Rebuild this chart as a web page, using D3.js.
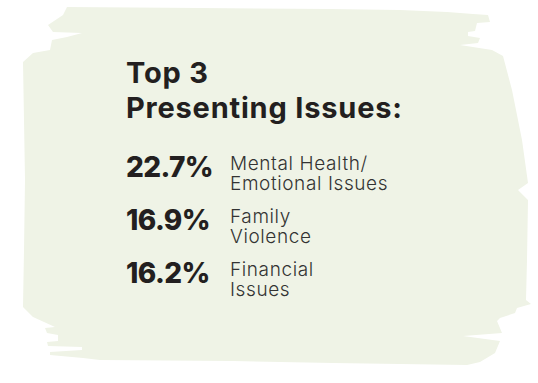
<!DOCTYPE html>
<html>
<head>
<meta charset="utf-8">
<script src="https://cdn.jsdelivr.net/npm/d3@7"></script>
<style>
  html, body { margin: 0; padding: 0; background: #fff; }
  svg { display: block; }
</style>
</head>
<body>
<div id="chart"></div>
<script>
const titleLines = ['Top 3', 'Presenting Issues:'];
const categories = ['Mental Health/Emotional Issues', 'Family Violence', 'Financial Issues'];
const labelLines = [['Mental Health/', 'Emotional Issues'], ['Family', 'Violence'], ['Financial', 'Issues']];
const shares = [22.7, 16.9, 16.2];

const width = 538;
const height = 383;
const ink = '#231f20';
const paper = '#eff3e6';

// brush-stroke backdrop outline
const brush = [
  [67, 7], [200, 8], [330, 9], [400, 10], [447, 12], [473, 14], [488, 15], [490, 22],
  [477, 23], [475, 31], [468, 32], [468, 36], [480, 38], [478, 43], [460, 45],
  [492, 50], [503, 56], [512, 90], [522, 140], [528, 183], [518, 190], [528, 200],
  [527, 260], [526, 300], [531, 304], [517, 308], [515, 313], [500, 318], [497, 321],
  [502, 333], [463, 336], [500, 341], [495, 353], [480, 362], [467, 365],
  [333, 363], [233, 361], [100, 360], [83, 358], [50, 355], [50, 352], [82, 350],
  [82, 347], [48, 346], [47, 342], [58, 341], [58, 335], [47, 333], [45, 328],
  [55, 327], [33, 317], [23, 307], [24, 250], [25, 180], [24, 120], [23, 62],
  [33, 53], [50, 50], [52, 40], [67, 37], [82, 33], [53, 32], [48, 25], [63, 15]
];

const svg = d3.select('#chart').append('svg')
  .attr('width', width)
  .attr('height', height)
  .attr('viewBox', [0, 0, width, height].join(' '));

svg.append('path')
  .attr('d', d3.line().curve(d3.curveLinearClosed)(brush))
  .attr('fill', paper);

const font = "'Inter', 'Open Sans', sans-serif";

svg.append('text')
  .attr('x', 126)
  .attr('fill', ink)
  .style('font', `700 29px ${font}`)
  .style('letter-spacing', '0.8px')
  .selectAll('tspan')
  .data(titleLines)
  .join('tspan')
  .attr('x', 126)
  .attr('y', (d, i) => 83 + i * 35)
  .text((d) => d);

const y = d3.scalePoint()
  .domain(categories)
  .range([177, 283]);

const row = svg.append('g')
  .selectAll('g')
  .data(categories)
  .join('g')
  .attr('transform', (d) => `translate(0, ${y(d)})`);

row.append('text')
  .attr('x', 126)
  .attr('fill', ink)
  .style('font', `800 28px ${font}`)
  .style('letter-spacing', '-0.6px')
  .text((d, i) => `${shares[i].toFixed(1)}%`);

row.append('text')
  .attr('fill', '#333')
  .style('font', `300 19px ${font}`)
  .style('letter-spacing', '0.6px')
  .selectAll('tspan')
  .data((d, i) => labelLines[i])
  .join('tspan')
  .attr('x', 230)
  .attr('y', (d, i) => -7 + i * 20)
  .text((d) => d);
</script>
</body>
</html>
